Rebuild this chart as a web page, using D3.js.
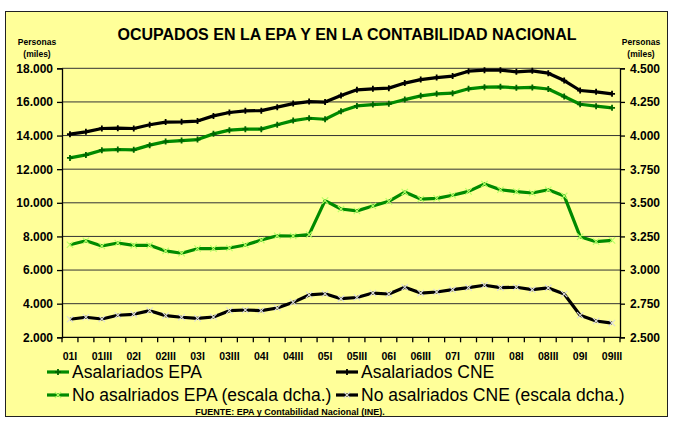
<!DOCTYPE html>
<html><head><meta charset="utf-8">
<script src="https://cdn.jsdelivr.net/npm/d3@7"></script>
<style>
html,body{margin:0;padding:0;background:#fff;}
svg{display:block;font-family:"Liberation Sans",Arial,sans-serif;}
</style></head>
<body>
<svg id="c" width="673" height="421"></svg>
<script>
// ---- data ----
const years = ["01","02","03","04","05","06","07","08","09"];
const quarters = ["I","II","III","IV"];
const categories = [];
years.forEach(y => quarters.forEach(q => categories.push(y + q)));
categories.splice(35); // 2001 I .. 2009 III

const asalariadosEPA = [12670,12850,13130,13170,13150,13430,13640,13700,13760,14100,14320,14380,14380,14640,14890,15030,14970,15440,15760,15840,15890,16140,16360,16480,16520,16780,16880,16900,16840,16860,16770,16320,15860,15750,15650];
const asalariadosCNE = [14080,14220,14420,14440,14420,14640,14800,14815,14860,15170,15370,15470,15480,15690,15900,16020,15990,16380,16720,16780,16820,17120,17330,17450,17540,17830,17890,17890,17790,17850,17710,17270,16680,16600,16480];
const noAsalariadosEPA = [3188,3218,3179,3201,3184,3184,3142,3125,3159,3159,3164,3186,3223,3255,3253,3263,3516,3454,3440,3476,3511,3580,3528,3533,3556,3585,3640,3597,3583,3573,3597,3551,3248,3211,3221];
const noAsalariadosCNE = [2634,2649,2636,2664,2671,2698,2661,2649,2641,2651,2698,2703,2698,2718,2760,2815,2824,2787,2796,2829,2822,2872,2829,2837,2854,2869,2887,2869,2872,2854,2867,2822,2664,2621,2606];

const leftTicks = [2000,4000,6000,8000,10000,12000,14000,16000,18000];
const rightTicks = [2500,2750,3000,3250,3500,3750,4000,4250,4500];

const title = "OCUPADOS EN LA EPA Y EN LA CONTABILIDAD NACIONAL";
const source = "FUENTE: EPA y Contabilidad Nacional (INE).";

// ---- drawing ----
const svg = d3.select("#c");
const loc = d3.formatLocale({decimal:",", thousands:".", grouping:[3], currency:["","€"]});
const fmt = loc.format(",");

const L = 62, R = 620, T = 68.3, B = 337.3;
const x = d3.scaleBand().domain(categories).range([L, R]).padding(0);
const yL = d3.scaleLinear().domain([2000,18000]).range([B, T]);
const yR = d3.scaleLinear().domain([2500,4500]).range([B, T]);
const cx = d => x(d) + x.bandwidth()/2;

svg.append("rect").attr("x",5.5).attr("y",11.5).attr("width",662).attr("height",405)
  .attr("fill","#FFFF99").attr("stroke","#222").attr("stroke-width",1);

svg.append("text").attr("x",347).attr("y",40).attr("text-anchor","middle")
  .attr("font-size",16).attr("font-weight","bold").text(title);

[["Personas",45],["(miles)",57]].forEach(([t,yy]) => {
  svg.append("text").attr("x",37).attr("y",yy).attr("text-anchor","middle").attr("font-size",8.5).attr("font-weight","bold").text(t);
  svg.append("text").attr("x",641).attr("y",yy).attr("text-anchor","middle").attr("font-size",8.5).attr("font-weight","bold").text(t);
});

// gridlines
svg.append("g").selectAll("line").data(leftTicks.slice(1)).join("line")
  .attr("x1",L).attr("x2",R).attr("y1",d=>yL(d)).attr("y2",d=>yL(d))
  .attr("stroke","#333").attr("stroke-width",1);

// left axis
const gL = svg.append("g").attr("transform",`translate(${L},0)`)
  .call(d3.axisLeft(yL).tickValues(leftTicks).tickFormat(fmt).tickSize(5).tickPadding(4));
gL.selectAll("text").attr("font-size",12).attr("font-weight","bold").attr("fill","#000")
  .attr("font-family","Liberation Sans, Arial, sans-serif");
gL.selectAll("line,path").attr("stroke","#000").attr("stroke-width",1.3);

// right axis
const gR = svg.append("g").attr("transform",`translate(${R},0)`)
  .call(d3.axisRight(yR).tickValues(rightTicks).tickFormat(fmt).tickSize(5).tickPadding(5));
gR.selectAll("text").attr("font-size",12).attr("font-weight","bold").attr("fill","#000")
  .attr("font-family","Liberation Sans, Arial, sans-serif");
gR.selectAll("line,path").attr("stroke","#000").attr("stroke-width",1.3);

// bottom axis
const gB = svg.append("g");
gB.append("line").attr("x1",L).attr("x2",R).attr("y1",B).attr("y2",B).attr("stroke","#000").attr("stroke-width",1.3);
gB.selectAll("line.t").data(categories.concat(["end"])).join("line").attr("class","t")
  .attr("x1",d=> d==="end"? R : x(d)).attr("x2",d=> d==="end"? R : x(d))
  .attr("y1",B).attr("y2",B+5).attr("stroke","#000").attr("stroke-width",1.3);
gB.selectAll("text").data(categories.filter((d,i)=>i%2===0)).join("text")
  .attr("x",cx).attr("y",B+23).attr("text-anchor","middle")
  .attr("font-size",10.5).attr("font-weight","bold").text(d=>d);

// series
const series = [
  {name:"Asalariados EPA", data:asalariadosEPA, y:yL, color:"#008a00", marker:"plus", mcolor:"#006400"},
  {name:"Asalariados CNE", data:asalariadosCNE, y:yL, color:"#000", marker:"plus", mcolor:"#000"},
  {name:"No asalriados EPA (escala dcha.)", data:noAsalariadosEPA, y:yR, color:"#008a00", marker:"x", mcolor:"#b8ff66"},
  {name:"No asalriados CNE (escala dcha.)", data:noAsalariadosCNE, y:yR, color:"#000", marker:"x", mcolor:"#ddd"}
];

function drawMarker(g, px, py, s){
  if (s.marker === "plus"){
    g.append("path").attr("d",`M${px-3},${py}H${px+3}M${px},${py-3}V${py+3}`)
      .attr("stroke",s.mcolor).attr("stroke-width",1.8);
  } else {
    g.append("path").attr("d",`M${px-3.2},${py-3.2}L${px+3.2},${py+3.2}M${px-3.2},${py+3.2}L${px+3.2},${py-3.2}`)
      .attr("stroke",s.mcolor).attr("stroke-width",1.1).attr("fill","none");
  }
}

series.forEach(s => {
  const line = d3.line().x((d,i)=>cx(categories[i])).y(d=>s.y(d));
  svg.append("path").datum(s.data).attr("d",line).attr("fill","none")
    .attr("stroke",s.color).attr("stroke-width",3.2).attr("stroke-linejoin","round");
  const g = svg.append("g");
  s.data.forEach((d,i)=> drawMarker(g, cx(categories[i]), s.y(d), s));
});

// legend
const legPos = [[47,372],[336,372],[47,395],[336,395]];
series.forEach((s,i)=>{
  const [lx,ly] = legPos[i];
  const g = svg.append("g");
  g.append("line").attr("x1",lx).attr("x2",lx+22).attr("y1",ly).attr("y2",ly)
    .attr("stroke",s.color).attr("stroke-width",3.2);
  drawMarker(g, lx+11, ly, s);
  g.append("text").attr("x",lx+25).attr("y",ly+6).attr("font-size",17.5).text(s.name);
});

svg.append("text").attr("x",290).attr("y",414.5).attr("text-anchor","middle")
  .attr("font-size",9).attr("font-weight","bold").text(source);
</script>
</body></html>
